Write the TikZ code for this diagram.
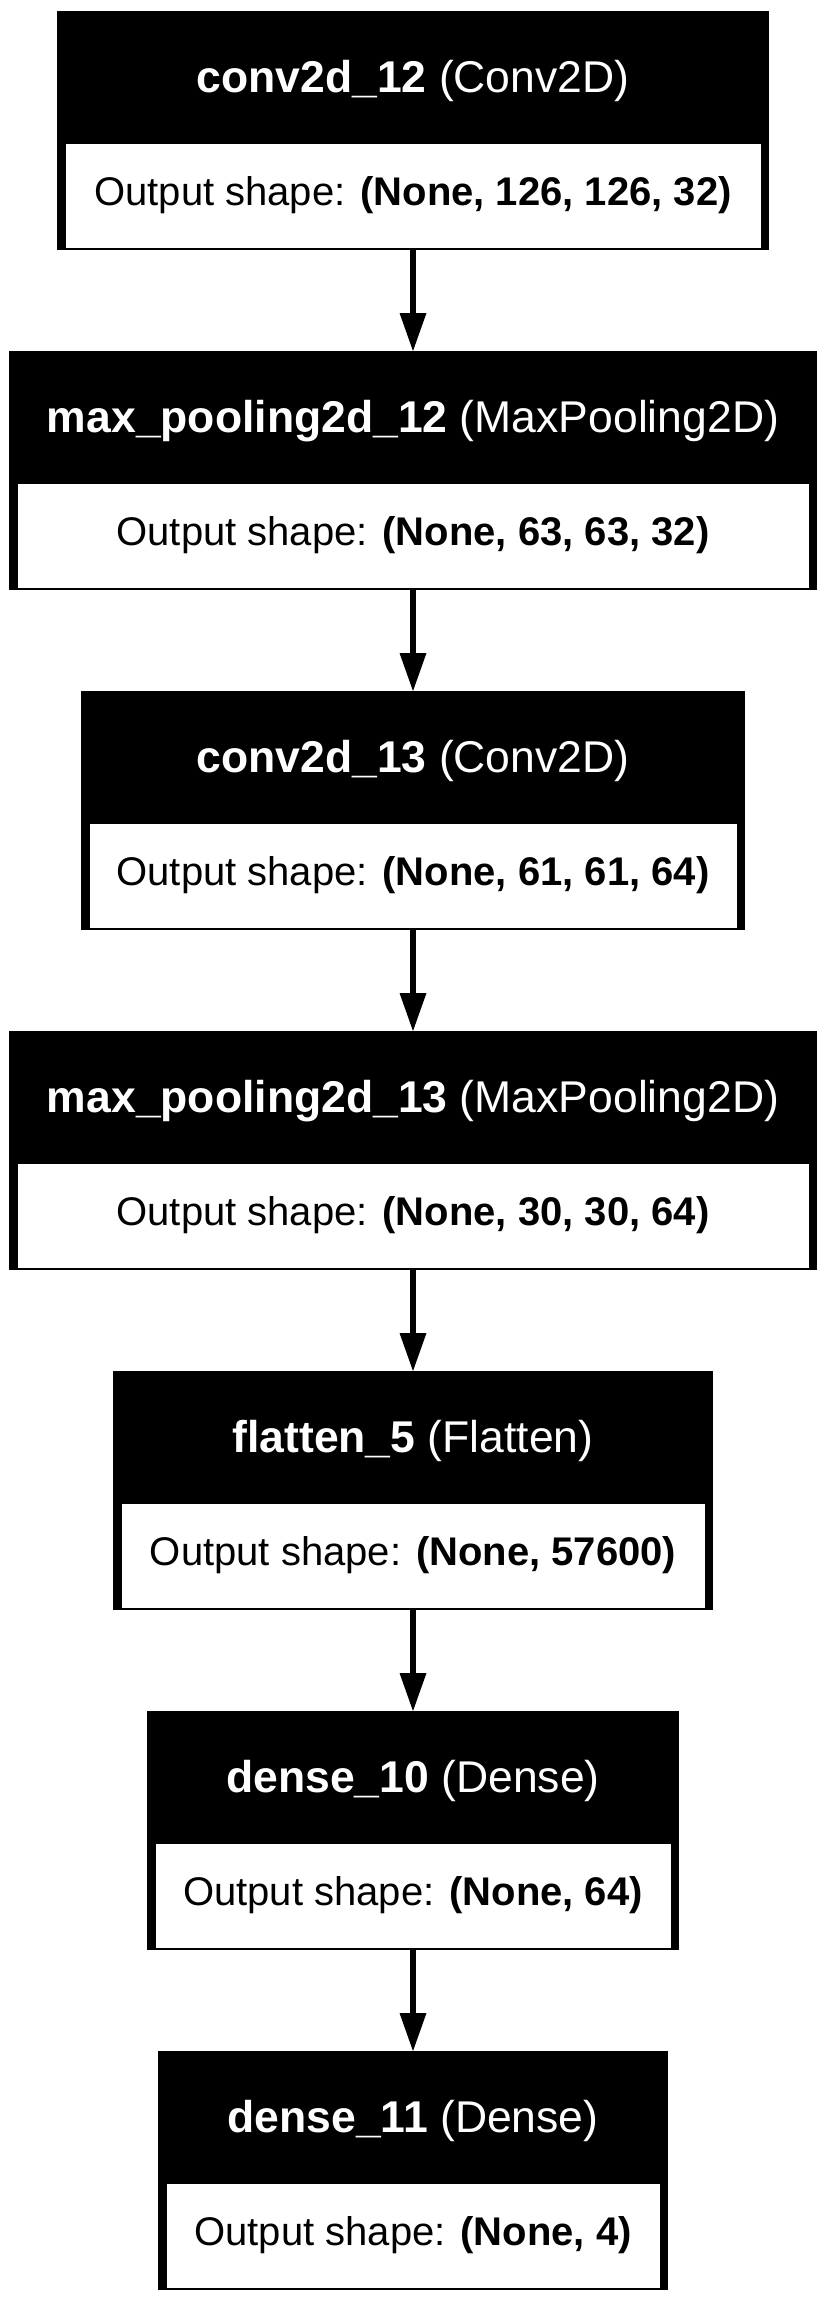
\documentclass[tikz,border=0pt]{standalone}
\usepackage{fontspec}
\setmainfont{Liberation Sans}
\usetikzlibrary{arrows.meta}
\tikzset{
  outerbox/.style={rectangle, fill=black, draw=none, inner sep=0pt, outer sep=0pt, minimum height=239pt},
  bodybox/.style={rectangle, fill=white, draw=none, inner sep=0pt, outer sep=0pt, minimum height=104pt, text=black, font=\fontsize{40}{48}\selectfont},
  hdrtext/.style={inner sep=0pt, text=white, font=\fontsize{44.5}{53}\selectfont},
  arr/.style={line width=5.5pt, -{Triangle[length=38pt,width=27pt,line width=0pt]}}
}
\newcommand\keraslayer[5]{%
  \node[outerbox, minimum width={2*#3}] (#1) at (413,{#2+119.5}) {};
  \node[hdrtext] (#1t) at (413,{#2+71}) {#4\strut};
  \node[bodybox, minimum width={2*#3-17}] (#1o) at (413,{#2+184.5}) {#5\strut};
}
\begin{document}
\begin{tikzpicture}[x=1pt,y=-1pt]
\useasboundingbox[fill=white] (0,0) rectangle (826,2299);
\keraslayer{b1}{11}{356}{\textbf{conv2d\_12} (Conv2D)}{Output shape: \textbf{(None, 126, 126, 32)}}
\keraslayer{b2}{351}{404}{\textbf{max\_pooling2d\_12} (MaxPooling2D)}{Output shape: \textbf{(None, 63, 63, 32)}}
\keraslayer{b3}{691}{332}{\textbf{conv2d\_13} (Conv2D)}{Output shape: \textbf{(None, 61, 61, 64)}}
\keraslayer{b4}{1031}{404}{\textbf{max\_pooling2d\_13} (MaxPooling2D)}{Output shape: \textbf{(None, 30, 30, 64)}}
\keraslayer{b5}{1371}{300}{\textbf{flatten\_5} (Flatten)}{Output shape: \textbf{(None, 57600)}}
\keraslayer{b6}{1711}{266}{\textbf{dense\_10} (Dense)}{Output shape: \textbf{(None, 64)}}
\keraslayer{b7}{2051}{255}{\textbf{dense\_11} (Dense)}{Output shape: \textbf{(None, 4)}}
\draw[arr] (b1.south) -- (b2.north);
\draw[arr] (b2.south) -- (b3.north);
\draw[arr] (b3.south) -- (b4.north);
\draw[arr] (b4.south) -- (b5.north);
\draw[arr] (b5.south) -- (b6.north);
\draw[arr] (b6.south) -- (b7.north);
\end{tikzpicture}
\end{document}
